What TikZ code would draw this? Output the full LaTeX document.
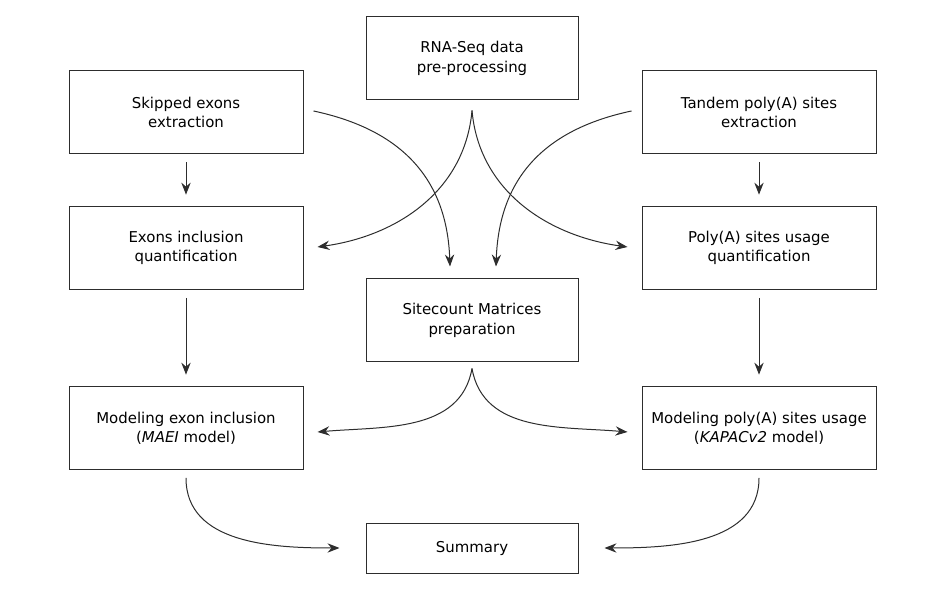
\documentclass[tikz,border=0pt]{standalone}
\usepackage{fontspec}
\setmainfont{DejaVu Sans}
\usetikzlibrary{arrows.meta,calc}
\definecolor{edge}{RGB}{45,45,45}
\tikzset{
  stage/.style={draw=edge, line width=0.75pt, align=center, minimum width=#1, minimum height=62.25pt,
    inner sep=2pt, font=\fontsize{11.2}{14.5}\selectfont},
  stage/.default=175.5pt,
  mid/.style={stage=159pt},
  flow/.style={-{Stealth[length=9pt, width=7pt, inset=3pt]}, line width=0.75pt, draw=edge},
  down/.style={flow, shorten <=6pt, shorten >=8.5pt},
}

\begin{document}
\begin{tikzpicture}[x=0.75pt, y=0.75pt]
  \useasboundingbox (0,0) rectangle (946,591);
  % top row and centre column
  \node[mid] (rna) at (472,532.5) {RNA-Seq data\\pre-processing};
  \node[stage] (skip) at (186,478.5) {Skipped exons\\extraction};
  \node[stage] (tandem) at (759,478.5) {Tandem poly(A) sites\\extraction};
  \node[stage] (exinc) at (186,343) {Exons inclusion\\quantification};
  \node[stage] (pausage) at (759,343) {Poly(A) sites usage\\quantification};
  \node[mid] (sitecount) at (472,270.5) {Sitecount Matrices\\preparation};
  \node[stage] (modex) at (186,163) {Modeling exon inclusion\\(\textit{MAEI} model)};
  \node[stage] (modpa) at (759,163) {Modeling poly(A) sites usage\\(\textit{KAPACv2} model)};
  \node[mid, minimum height=37.5pt] (summary) at (472,42) {Summary};
  % straight arrows in the side columns
  \foreach \a/\b in {skip/exinc,exinc/modex,tandem/pausage,pausage/modpa} { \draw[down] (\a) -- (\b); }
  % curved arrows
  \draw[flow] ($(skip.east)+(10,1.5)$) to[out=-12, in=92, looseness=1.1] ($(sitecount.north)+(-22,12)$);
  \draw[flow] ($(tandem.west)+(-10,1.5)$) to[out=192, in=88, looseness=1.1] ($(sitecount.north)+(24,12)$);
  \draw[flow] ($(rna.south)+(0,-10)$) to[out=265, in=8] ($(exinc.east)+(14,1)$);
  \draw[flow] ($(rna.south)+(0,-10)$) to[out=275, in=172] ($(pausage.west)+(-14,1)$);
  \draw[flow] ($(sitecount.south)+(0,-6)$) to[out=260, in=5] ($(modex.east)+(14,-4)$);
  \draw[flow] ($(sitecount.south)+(0,-6)$) to[out=280, in=175] ($(modpa.west)+(-14,-4)$);
  \draw[flow] ($(modex.south)+(0,-8)$) to[out=270, in=180] ($(summary.west)+(-26,1)$);
  \draw[flow] ($(modpa.south)+(0,-8)$) to[out=270, in=0] ($(summary.east)+(26,1)$);
\end{tikzpicture}
\end{document}
